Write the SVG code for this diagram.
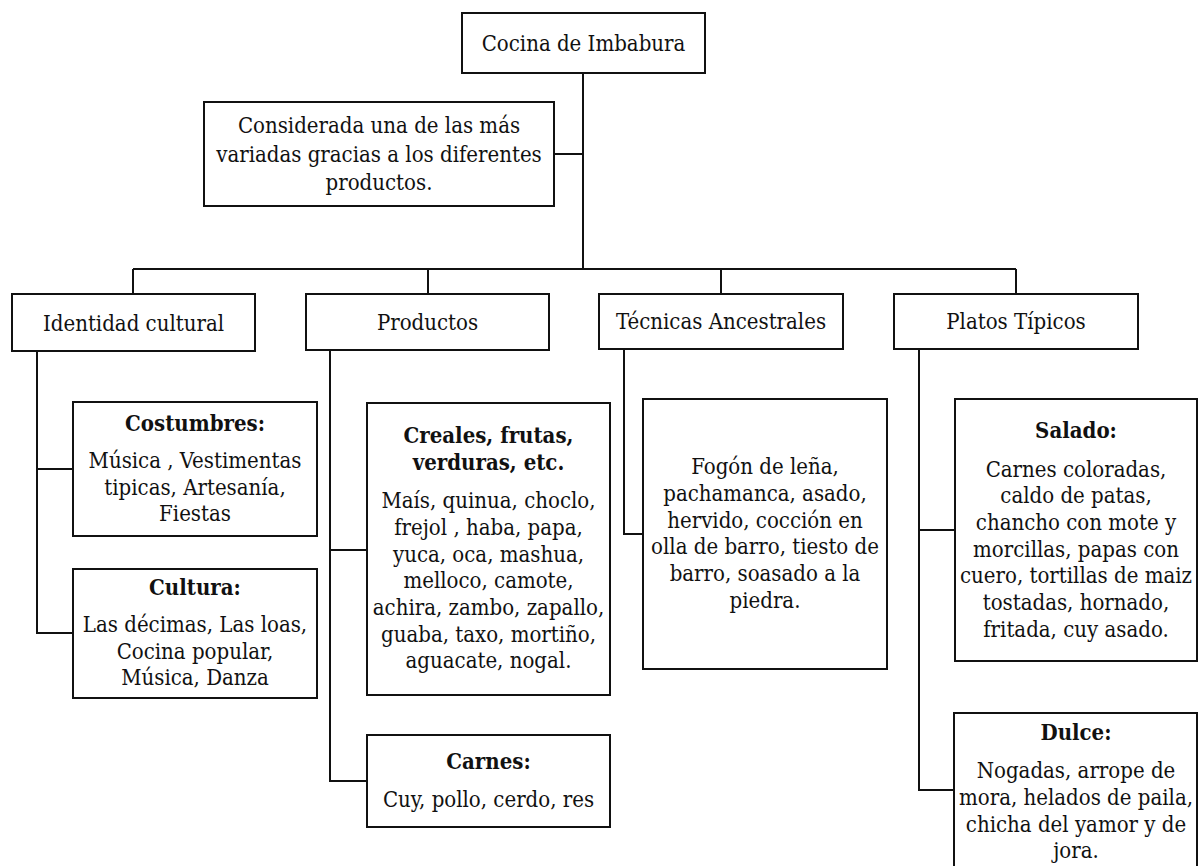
<svg xmlns="http://www.w3.org/2000/svg" width="1198" height="866" viewBox="0 0 1198 866">
<style>
.box{fill:#fff;stroke:#111;stroke-width:2}
.ln{fill:none;stroke:#111;stroke-width:2}
text{font-family:'DejaVu Serif Condensed','DejaVu Serif','Liberation Serif',serif;font-stretch:condensed;font-size:22px;fill:#111;text-anchor:middle}
.b{font-weight:bold}
</style>
<rect width="1198" height="866" fill="#fff"/>
<g id="connectors">
<path class="ln" d="M583,73 V269 M554,154 H583 M133,269 H1016 M133,269 V294 M428,269 V294 M721,269 V294 M1016,269 V294"/>
<path class="ln" d="M37,351 V633 H73 M37,469 H73"/>
<path class="ln" d="M330,350 V781 H367 M330,550 H367"/>
<path class="ln" d="M624,350 V534 H643"/>
<path class="ln" d="M919,349 V790 H954 M919,530 H955"/>
</g>
<g id="n-root"><rect class="box" x="462" y="13" width="243" height="60"/><text x="583.5" y="51">Cocina de Imbabura</text></g>
<g id="n-considerada"><rect class="box" x="204" y="102" width="350" height="104"/>
<text x="379" y="133">Considerada una de las más</text><text x="379" y="162">variadas gracias a los diferentes</text><text x="379" y="190">productos.</text></g>
<g id="n-identidad"><rect class="box" x="12" y="294" width="243" height="57"/><text x="133.5" y="331">Identidad cultural</text></g>
<g id="n-productos"><rect class="box" x="306" y="294" width="243" height="56"/><text x="427.5" y="330">Productos</text></g>
<g id="n-tecnicas"><rect class="box" x="599" y="294" width="244" height="55"/><text x="721" y="329">Técnicas Ancestrales</text></g>
<g id="n-platos"><rect class="box" x="894" y="294" width="244" height="55"/><text x="1016" y="329">Platos Típicos</text></g>
<g id="n-costumbres"><rect class="box" x="73" y="402" width="244" height="134"/>
<text class="b" x="195" y="431">Costumbres:</text><text x="195" y="468">Música , Vestimentas</text><text x="195" y="495">tipicas, Artesanía,</text><text x="195" y="521">Fiestas</text></g>
<g id="n-cultura"><rect class="box" x="73" y="569" width="244" height="129"/>
<text class="b" x="195" y="595">Cultura:</text><text x="195" y="632">Las décimas, Las loas,</text><text x="195" y="659">Cocina popular,</text><text x="195" y="685">Música, Danza</text></g>
<g id="n-creales"><rect class="box" x="367" y="403" width="243" height="292"/>
<text class="b" x="488.5" y="443">Creales, frutas,</text><text class="b" x="488.5" y="470">verduras, etc.</text>
<text x="488.5" y="508">Maís, quinua, choclo,</text><text x="488.5" y="535">frejol , haba, papa,</text><text x="488.5" y="562">yuca, oca, mashua,</text><text x="488.5" y="588">melloco, camote,</text><text x="488.5" y="615">achira, zambo, zapallo,</text><text x="488.5" y="642">guaba, taxo, mortiño,</text><text x="488.5" y="668">aguacate, nogal.</text></g>
<g id="n-carnes"><rect class="box" x="367" y="735" width="243" height="92"/>
<text class="b" x="488.5" y="769">Carnes:</text><text x="488.5" y="807">Cuy, pollo, cerdo, res</text></g>
<g id="n-fogon"><rect class="box" x="643" y="399" width="244" height="270"/>
<text x="765" y="474">Fogón de leña,</text><text x="765" y="501">pachamanca, asado,</text><text x="765" y="528">hervido, cocción en</text><text x="765" y="554">olla de barro, tiesto de</text><text x="765" y="581">barro, soasado a la</text><text x="765" y="608">piedra.</text></g>
<g id="n-salado"><rect class="box" x="955" y="399" width="242" height="262"/>
<text class="b" x="1076" y="438">Salado:</text><text x="1076" y="477">Carnes coloradas,</text><text x="1076" y="503">caldo de patas,</text><text x="1076" y="530">chancho con mote y</text><text x="1076" y="557">morcillas, papas con</text><text x="1076" y="583">cuero, tortillas de maiz</text><text x="1076" y="610">tostadas, hornado,</text><text x="1076" y="637">fritada, cuy asado.</text></g>
<g id="n-dulce"><rect class="box" x="954" y="713" width="243" height="170"/>
<text class="b" x="1076" y="740">Dulce:</text><text x="1076" y="778">Nogadas, arrope de</text><text x="1076" y="805">mora, helados de paila,</text><text x="1076" y="832">chicha del yamor y de</text><text x="1076" y="858">jora.</text></g>
</svg>
